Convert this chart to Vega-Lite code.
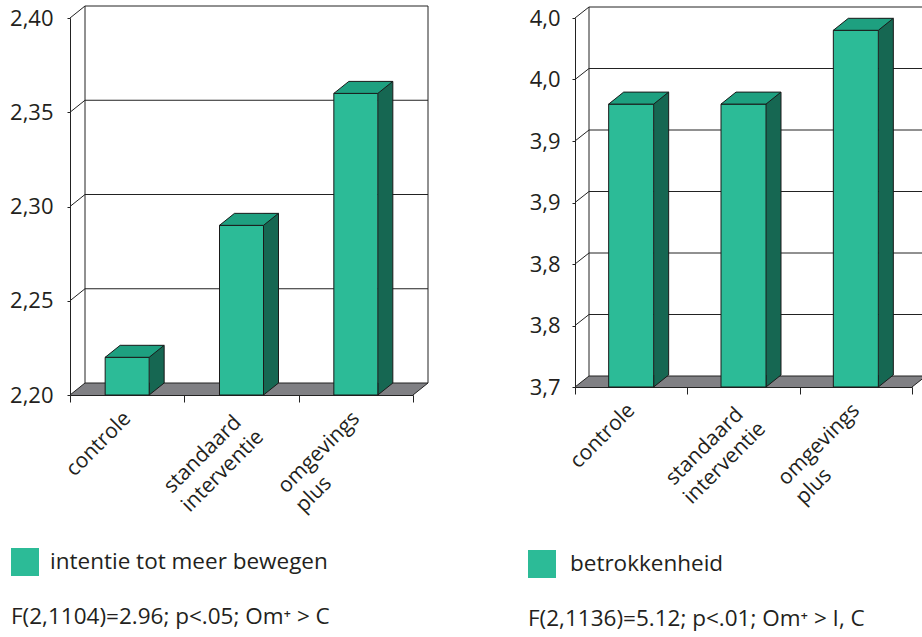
{
  "$schema": "https://vega.github.io/schema/vega-lite/v6.json",
  "autosize": {"type": "none"},
  "padding": {"left": 70, "top": 18, "right": 852, "bottom": 619},
  "background": "white",
  "bounds": "flush",
  "spacing": 162,
  "config": {
    "font": "Open Sans",
    "view": {"stroke": null},
    "axis": {"labelFont": "Open Sans", "labelColor": "#231f20", "domainColor": "#222222", "tickColor": "#222222", "grid": false},
    "legend": {"labelFont": "Open Sans", "titleFont": "Open Sans", "labelColor": "#231f20", "titleColor": "#231f20"}
  },
  "resolve": {"scale": {"color": "independent", "x": "independent", "y": "independent"}, "legend": {"color": "independent"}},
  "hconcat": [
    {
      "width": 343,
      "height": 377,
      "layer": [
        {
          "data": {"values": [{"v": 2.2}]},
          "mark": {"type": "rect", "color": "#808084", "xOffset": 15, "yOffset": -12},
          "encoding": {
            "x": {"value": 0}, "x2": {"value": "width"},
            "y": {"field": "v", "type": "quantitative", "title": null, "scale": {"domain": [2.2, 2.4], "zero": false, "nice": false},
                  "axis": {"title": null, "values": [2.2, 2.25, 2.3, 2.35, 2.4], "labelExpr": "replace(format(datum.value, '.2f'), '.', ',')", "tickSize": 3, "labelPadding": 14, "labelFontSize": 22, "domain": true}},
            "y2": {"field": "v"}
          }
        },
        {
          "data": {"values": [{"v": 2.2}]},
          "mark": {"type": "point", "shape": "M0,0 L15,-12 L15,0 Z", "size": 4, "filled": true, "color": "#808084", "opacity": 1, "strokeWidth": 0},
          "encoding": {"x": {"value": 0}, "y": {"field": "v", "type": "quantitative", "title": null}}
        },
        {
          "data": {"values": [{"v": 2.2}]},
          "mark": {"type": "point", "shape": "M0,0 L15,-12 L0,-12 Z", "size": 4, "filled": true, "color": "#808084", "opacity": 1, "strokeWidth": 0},
          "encoding": {"x": {"value": "width"}, "y": {"field": "v", "type": "quantitative", "title": null}}
        },
        {
          "data": {"values": [{"v": 2.2}, {"v": 2.25}, {"v": 2.3}, {"v": 2.35}, {"v": 2.4}]},
          "mark": {"type": "rule", "color": "#222222", "strokeWidth": 1, "xOffset": 15, "x2Offset": 15, "yOffset": -12},
          "encoding": {"x": {"value": 0}, "x2": {"value": "width"}, "y": {"field": "v", "type": "quantitative", "title": null}}
        },
        {
          "data": {"values": [{"v": 2.2}, {"v": 2.25}, {"v": 2.3}, {"v": 2.35}, {"v": 2.4}]},
          "mark": {"type": "rule", "color": "#222222", "strokeWidth": 1, "x2Offset": 15, "y2Offset": -12},
          "encoding": {"x": {"value": 0}, "x2": {"value": 0}, "y": {"field": "v", "type": "quantitative", "title": null}, "y2": {"field": "v"}}
        },
        {
          "data": {"values": [{"v": 2.2}]},
          "mark": {"type": "rule", "color": "#222222", "strokeWidth": 1, "x2Offset": 15, "y2Offset": -12},
          "encoding": {"x": {"value": "width"}, "x2": {"value": "width"}, "y": {"field": "v", "type": "quantitative", "title": null}, "y2": {"field": "v"}}
        },
        {
          "data": {"values": [{"onder": 2.2, "boven": 2.4}]},
          "mark": {"type": "rule", "color": "#222222", "strokeWidth": 1, "xOffset": 15, "yOffset": -12, "y2Offset": -12},
          "encoding": {"x": {"value": 0}, "y": {"field": "onder", "type": "quantitative", "title": null}, "y2": {"field": "boven"}}
        },
        {
          "data": {"values": [{"onder": 2.2, "boven": 2.4}]},
          "mark": {"type": "rule", "color": "#222222", "strokeWidth": 1, "xOffset": 15, "yOffset": -12, "y2Offset": -12},
          "encoding": {"x": {"value": "width"}, "y": {"field": "onder", "type": "quantitative", "title": null}, "y2": {"field": "boven"}}
        },
        {
          "data": {"name": "intentie"},
          "layer": [
            {
              "mark": {"type": "bar", "width": 15, "xOffset": 29.5, "yOffset": -12, "y2Offset": -12, "color": "#166752"},
              "encoding": {
                "x": {"field": "groep", "type": "nominal", "title": null},
                "y": {"field": "score", "type": "quantitative", "title": null},
                "y2": {"datum": 2.2}
              }
            },
            {
              "mark": {"type": "point", "shape": "M22,-12 L22,0 L37,-12", "size": 4, "filled": true, "fill": "#166752", "stroke": "#1a1a1a", "strokeWidth": 1, "opacity": 1},
              "encoding": {
                "x": {"field": "groep", "type": "nominal", "title": null},
                "y": {"datum": 2.2, "type": "quantitative", "title": null}
              }
            },
            {
              "mark": {"type": "rule", "color": "#1a1a1a", "strokeWidth": 1, "xOffset": 37, "yOffset": -12, "y2Offset": -12},
              "encoding": {
                "x": {"field": "groep", "type": "nominal", "title": null},
                "y": {"field": "score", "type": "quantitative", "title": null},
                "y2": {"datum": 2.2}
              }
            },
            {
              "mark": {"type": "bar", "width": 44, "stroke": "#1a1a1a", "strokeWidth": 1, "opacity": 1},
              "encoding": {
                "x": {"field": "groep", "type": "nominal", "title": null,
                      "scale": {"type": "band", "domain": ["controle", "standaard interventie", "omgevings plus"], "paddingInner": 0, "paddingOuter": 0},
                      "axis": {"title": null, "tickBand": "extent", "tickSize": 7, "labelAngle": -45,
                               "labelExpr": "datum.label == 'omgevings plus' ? ['omgevings', 'plus\u00a0\u00a0\u00a0\u00a0\u00a0\u00a0\u00a0\u00a0\u00a0\u00a0\u00a0\u00a0\u200b'] : datum.label == 'standaard interventie' ? ['standaard\u00a0\u200b', 'interventie'] : datum.label",
                               "labelFontSize": 21, "labelLineHeight": 26, "labelPadding": 13, "labelOverlap": false, "labelLimit": 0}},
                "y": {"field": "score", "type": "quantitative", "title": null},
                "y2": {"datum": 2.2},
                "color": {"field": "reeks", "type": "nominal", "scale": {"range": ["#2cbb97"]},
                          "legend": {"orient": "none", "legendX": -59, "legendY": 530, "padding": 0, "title": "F(2,1104)=2.96; p<.05; Om⁺ > C", "titleOrient": "bottom", "titleAnchor": "start", "titleAlign": "left", "titlePadding": 30, "titleFontSize": 22.5, "titleFontWeight": "normal", "titleLimit": 0, "symbolType": "square", "symbolSize": 784, "symbolStrokeWidth": 0, "symbolOpacity": 1, "labelFontSize": 22.5, "labelOffset": 11, "labelLimit": 0}}
              }
            },
            {
              "mark": {"type": "point", "shape": "M-22,0 L22,0 L37,-12 L-7,-12 Z", "size": 4, "filled": true, "fill": "#1ea080", "stroke": "#1a1a1a", "strokeWidth": 1, "opacity": 1},
              "encoding": {
                "x": {"field": "groep", "type": "nominal", "title": null},
                "y": {"field": "score", "type": "quantitative", "title": null}
              }
            }
          ]
        }
      ]
    },
    {
      "width": 337,
      "height": 369,
      "layer": [
        {
          "data": {"values": [{"v": 3.7}]},
          "mark": {"type": "rect", "color": "#808084", "xOffset": 14, "yOffset": -11},
          "encoding": {
            "x": {"value": 0}, "x2": {"value": "width"},
            "y": {"field": "v", "type": "quantitative", "title": null, "scale": {"domain": [3.7, 4.0], "zero": false, "nice": false},
                  "axis": {"title": null, "values": [3.7, 3.75, 3.8, 3.85, 3.9, 3.95, 4.0], "labelExpr": "replace(format(datum.value, '.1f'), '.', ',')", "tickSize": 3, "labelPadding": 12, "labelFontSize": 22, "domain": true}},
            "y2": {"field": "v"}
          }
        },
        {
          "data": {"values": [{"v": 3.7}]},
          "mark": {"type": "point", "shape": "M0,0 L14,-11 L14,0 Z", "size": 4, "filled": true, "color": "#808084", "opacity": 1, "strokeWidth": 0},
          "encoding": {"x": {"value": 0}, "y": {"field": "v", "type": "quantitative", "title": null}}
        },
        {
          "data": {"values": [{"v": 3.7}]},
          "mark": {"type": "point", "shape": "M0,0 L14,-11 L0,-11 Z", "size": 4, "filled": true, "color": "#808084", "opacity": 1, "strokeWidth": 0},
          "encoding": {"x": {"value": "width"}, "y": {"field": "v", "type": "quantitative", "title": null}}
        },
        {
          "data": {"values": [{"v": 3.7}, {"v": 3.75}, {"v": 3.8}, {"v": 3.85}, {"v": 3.9}, {"v": 3.95}, {"v": 4.0}]},
          "mark": {"type": "rule", "color": "#222222", "strokeWidth": 1, "xOffset": 14, "x2Offset": 14, "yOffset": -11},
          "encoding": {"x": {"value": 0}, "x2": {"value": "width"}, "y": {"field": "v", "type": "quantitative", "title": null}}
        },
        {
          "data": {"values": [{"v": 3.7}, {"v": 3.75}, {"v": 3.8}, {"v": 3.85}, {"v": 3.9}, {"v": 3.95}, {"v": 4.0}]},
          "mark": {"type": "rule", "color": "#222222", "strokeWidth": 1, "x2Offset": 14, "y2Offset": -11},
          "encoding": {"x": {"value": 0}, "x2": {"value": 0}, "y": {"field": "v", "type": "quantitative", "title": null}, "y2": {"field": "v"}}
        },
        {
          "data": {"values": [{"v": 3.7}]},
          "mark": {"type": "rule", "color": "#222222", "strokeWidth": 1, "x2Offset": 14, "y2Offset": -11},
          "encoding": {"x": {"value": "width"}, "x2": {"value": "width"}, "y": {"field": "v", "type": "quantitative", "title": null}, "y2": {"field": "v"}}
        },
        {
          "data": {"values": [{"onder": 3.7, "boven": 4.0}]},
          "mark": {"type": "rule", "color": "#222222", "strokeWidth": 1, "xOffset": 14, "yOffset": -11, "y2Offset": -11},
          "encoding": {"x": {"value": 0}, "y": {"field": "onder", "type": "quantitative", "title": null}, "y2": {"field": "boven"}}
        },
        {
          "data": {"name": "betrokkenheid"},
          "layer": [
            {
              "mark": {"type": "bar", "width": 15, "xOffset": 30, "yOffset": -12, "y2Offset": -12, "color": "#166752"},
              "encoding": {
                "x": {"field": "groep", "type": "nominal", "title": null},
                "y": {"field": "score", "type": "quantitative", "title": null},
                "y2": {"datum": 3.7}
              }
            },
            {
              "mark": {"type": "point", "shape": "M22.5,-12 L22.5,0 L37.5,-12", "size": 4, "filled": true, "fill": "#166752", "stroke": "#1a1a1a", "strokeWidth": 1, "opacity": 1},
              "encoding": {
                "x": {"field": "groep", "type": "nominal", "title": null},
                "y": {"datum": 3.7, "type": "quantitative", "title": null}
              }
            },
            {
              "mark": {"type": "rule", "color": "#1a1a1a", "strokeWidth": 1, "xOffset": 37.5, "yOffset": -12, "y2Offset": -12},
              "encoding": {
                "x": {"field": "groep", "type": "nominal", "title": null},
                "y": {"field": "score", "type": "quantitative", "title": null},
                "y2": {"datum": 3.7}
              }
            },
            {
              "mark": {"type": "bar", "width": 45, "stroke": "#1a1a1a", "strokeWidth": 1, "opacity": 1},
              "encoding": {
                "x": {"field": "groep", "type": "nominal", "title": null,
                      "scale": {"type": "band", "domain": ["controle", "standaard interventie", "omgevings plus"], "paddingInner": 0, "paddingOuter": 0},
                      "axis": {"title": null, "tickBand": "extent", "tickSize": 7, "labelAngle": -45,
                               "labelExpr": "datum.label == 'omgevings plus' ? ['omgevings', 'plus\u00a0\u00a0\u00a0\u00a0\u00a0\u00a0\u00a0\u00a0\u00a0\u00a0\u00a0\u00a0\u200b'] : datum.label == 'standaard interventie' ? ['standaard\u00a0\u200b', 'interventie'] : datum.label",
                               "labelFontSize": 21, "labelLineHeight": 26, "labelPadding": 13, "labelOverlap": false, "labelLimit": 0}},
                "y": {"field": "score", "type": "quantitative", "title": null},
                "y2": {"datum": 3.7},
                "color": {"field": "reeks", "type": "nominal", "scale": {"range": ["#2cbb97"]},
                          "legend": {"orient": "none", "legendX": -47, "legendY": 532, "padding": 0, "title": "F(2,1136)=5.12; p<.01; Om⁺ > I, C", "titleOrient": "bottom", "titleAnchor": "start", "titleAlign": "left", "titlePadding": 30, "titleFontSize": 22.5, "titleFontWeight": "normal", "titleLimit": 0, "symbolType": "square", "symbolSize": 784, "symbolStrokeWidth": 0, "symbolOpacity": 1, "labelFontSize": 22.5, "labelOffset": 14, "labelLimit": 0}}
              }
            },
            {
              "mark": {"type": "point", "shape": "M-22.5,0 L22.5,0 L37.5,-12 L-7.5,-12 Z", "size": 4, "filled": true, "fill": "#1ea080", "stroke": "#1a1a1a", "strokeWidth": 1, "opacity": 1},
              "encoding": {
                "x": {"field": "groep", "type": "nominal", "title": null},
                "y": {"field": "score", "type": "quantitative", "title": null}
              }
            }
          ]
        }
      ]
    }
  ],
  "datasets": {
    "intentie": [
      {"groep": "controle", "score": 2.22, "reeks": "intentie tot meer bewegen"},
      {"groep": "standaard interventie", "score": 2.29, "reeks": "intentie tot meer bewegen"},
      {"groep": "omgevings plus", "score": 2.36, "reeks": "intentie tot meer bewegen"}
    ],
    "betrokkenheid": [
      {"groep": "controle", "score": 3.93, "reeks": "betrokkenheid"},
      {"groep": "standaard interventie", "score": 3.93, "reeks": "betrokkenheid"},
      {"groep": "omgevings plus", "score": 3.99, "reeks": "betrokkenheid"}
    ]
  }
}
